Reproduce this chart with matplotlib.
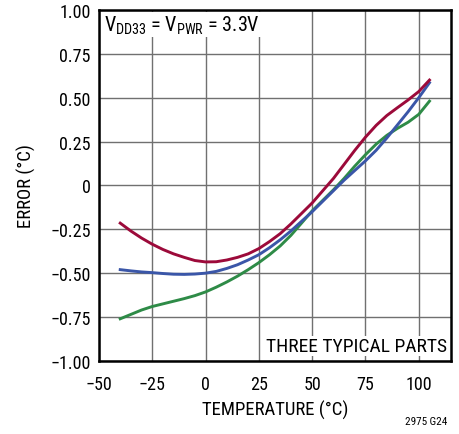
import matplotlib
matplotlib.use("Agg")
import matplotlib.pyplot as plt

plt.rcParams['font.family'] = ['Roboto Condensed', 'DejaVu Sans']
plt.rcParams['mathtext.fontset'] = 'custom'
plt.rcParams['mathtext.rm'] = 'Roboto Condensed'

temp = [-40, -35, -30, -25, -20, -15, -10, -5, 0, 5, 10, 15, 20, 25, 30,
        35, 40, 45, 50, 55, 60, 65, 70, 75, 80, 85, 90, 95, 100, 105]

part_red = [-0.215, -0.26, -0.30, -0.335, -0.365, -0.39, -0.41, -0.428, -0.436, -0.435,
            -0.425, -0.41, -0.39, -0.36, -0.32, -0.275, -0.22, -0.16, -0.10, -0.03,
            0.04, 0.12, 0.20, 0.275, 0.342, 0.398, 0.443, 0.487, 0.535, 0.60]
part_blue = [-0.48, -0.487, -0.493, -0.497, -0.502, -0.506, -0.507, -0.505, -0.50, -0.49,
             -0.473, -0.452, -0.425, -0.395, -0.355, -0.31, -0.26, -0.205, -0.15, -0.09,
             -0.03, 0.03, 0.085, 0.14, 0.20, 0.27, 0.345, 0.42, 0.50, 0.585]
part_green = [-0.76, -0.735, -0.71, -0.69, -0.675, -0.66, -0.645, -0.628, -0.607, -0.58,
              -0.55, -0.517, -0.48, -0.44, -0.395, -0.345, -0.285, -0.215, -0.145, -0.085,
              -0.025, 0.04, 0.11, 0.175, 0.235, 0.285, 0.325, 0.36, 0.405, 0.48]

xticks = [-50, -25, 0, 25, 50, 75, 100]
yticks = [-1.0, -0.75, -0.5, -0.25, 0, 0.25, 0.5, 0.75, 1.0]
xlabels = ['\u221250', '\u221225', '0', '25', '50', '75', '100']
ylabels = ['\u22121.00', '\u22120.75', '\u22120.50', '\u22120.25', '0', '0.25', '0.50', '0.75', '1.00']

fig = plt.figure(figsize=(4.6, 4.35), dpi=100)
ax = fig.add_axes([0.215, 0.168, 0.765, 0.807])

ax.plot(temp, part_green, color='#2e8b47', lw=2.1, zorder=3, solid_joinstyle='round')
ax.plot(temp, part_blue, color='#3a56a8', lw=2.1, zorder=4, solid_joinstyle='round')
ax.plot(temp, part_red, color='#9c0a3a', lw=2.1, zorder=5, solid_joinstyle='round')

ax.set_xlim(-50, 115)
ax.set_ylim(-1.0, 1.0)
ax.set_xticks(xticks)
ax.set_xticklabels(xlabels)
ax.set_yticks(yticks)
ax.set_yticklabels(ylabels)
ax.tick_params(axis='x', length=0, labelsize=13, pad=10)
ax.tick_params(axis='y', length=0, labelsize=13, pad=6)
ax.grid(True, color='#707070', lw=1.0)
ax.set_axisbelow(True)
for s in ax.spines.values():
    s.set_linewidth(1.8)

ax.set_xlabel('TEMPERATURE (\u00b0C)', fontsize=13.5, labelpad=5)
ax.set_ylabel('ERROR (\u00b0C)', fontsize=13.5, labelpad=10)

ax.text(-47.5, 0.915, r'V$\mathregular{_{DD33}}$ = V$\mathregular{_{PWR}}$ = 3.3V', fontsize=14.5,
        va='center', ha='left', zorder=6,
        bbox=dict(facecolor='white', edgecolor='none', pad=1))
ax.text(113, -0.915, 'THREE TYPICAL PARTS', fontsize=14, va='center', ha='right', zorder=6,
        bbox=dict(facecolor='white', edgecolor='none', pad=1))

fig.text(0.972, 0.018, '2975 G24', fontsize=8, ha='right', va='bottom')

fig.savefig('out.png', dpi=100)
